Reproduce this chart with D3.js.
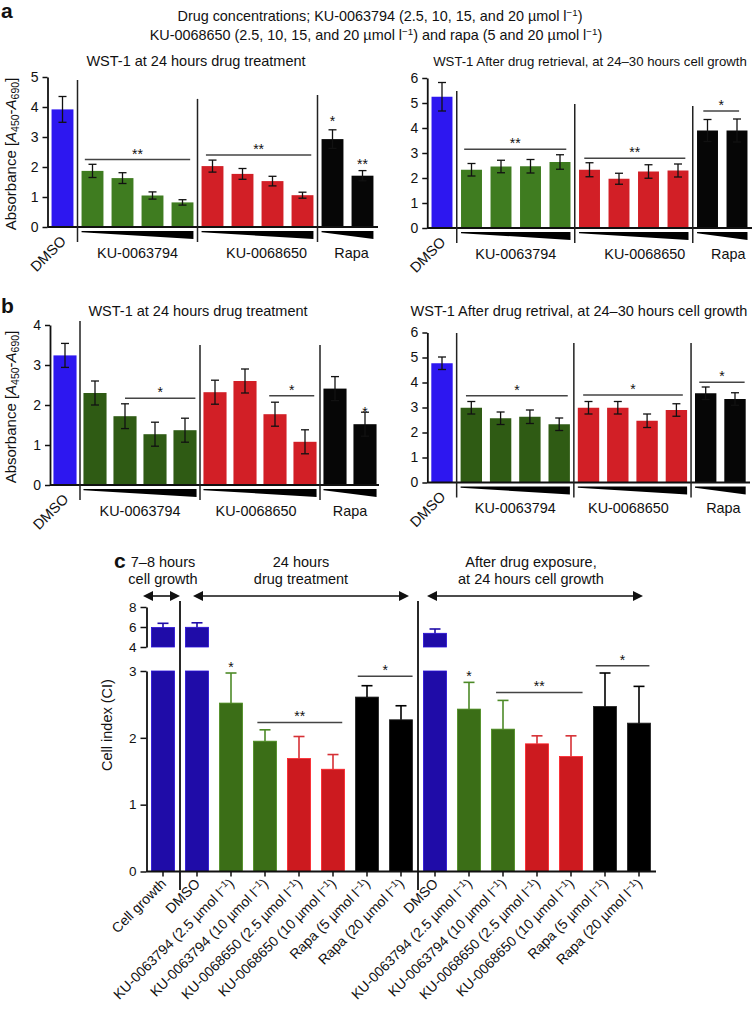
<!DOCTYPE html>
<html><head><meta charset="utf-8">
<script src="https://cdn.jsdelivr.net/npm/d3@7"></script>
<style>
body{margin:0;background:#fff}
svg{display:block}
text{font-family:"Liberation Sans",Arial,Helvetica,sans-serif;fill:#111}
</style>
</head><body>
<svg id="chart" width="753" height="1012"></svg>
<script>
// ---------------- DATA ----------------
const barGroup = ["dmso","ku63","ku63","ku63","ku63","ku68","ku68","ku68","ku68","rapa","rapa"];
const groupNames = {ku63:"KU-0063794", ku68:"KU-0068650", rapa:"Rapa"};

const aLeftMean  = [3.92,1.87,1.63,1.05,0.82,2.03,1.77,1.53,1.06,2.93,1.71];
const aLeftErr   = [0.43,0.22,0.18,0.12,0.09,0.20,0.18,0.16,0.10,0.31,0.17];
const aRightMean = [5.25,2.33,2.46,2.47,2.64,2.33,1.97,2.26,2.30,3.90,3.90];
const aRightErr  = [0.57,0.25,0.25,0.27,0.29,0.28,0.22,0.27,0.26,0.44,0.46];
const bLeftMean  = [3.24,2.30,1.72,1.27,1.37,2.32,2.60,1.77,1.08,2.41,1.52];
const bLeftErr   = [0.30,0.30,0.31,0.30,0.30,0.30,0.30,0.30,0.30,0.30,0.30];
const bRightMean = [4.77,2.99,2.57,2.63,2.33,2.99,2.99,2.47,2.90,3.57,3.34];
const bRightErr  = [0.25,0.25,0.25,0.27,0.25,0.25,0.25,0.27,0.25,0.25,0.25];

const aLeftTicks  = [0,1,2,3,4,5];
const aRightTicks = [0,1,2,3,4,5,6];
const bLeftTicks  = [0,1,2,3,4];
const bRightTicks = [0,1,2,3,4,5,6];

// significance brackets: [firstBar, lastBar, value, label]
const aLeftSig  = [[1,4,2.25,"**"],[5,8,2.40,"**"]];
const aRightSig = [[1,4,3.15,"**"],[5,8,2.79,"**"],[9,10,4.68,"*"]];
const bLeftSig  = [[2,4,2.17,"*"],[7,8,2.23,"*"]];
const bRightSig = [[1,4,3.47,"*"],[5,8,3.50,"*"],[9,10,4.01,"*"]];
// stars on single bars: [bar, label]
const aLeftStars  = [[9,"*"],[10,"**"]];
const aRightStars = [];
const bLeftStars  = [[10,"*"]];
const bRightStars = [];

const headerLines = ["Drug concentrations; KU-0063794 (2.5, 10, 15, and 20 µmol l⁻¹)",
                     "KU-0068650 (2.5, 10, 15, and 20 µmol l⁻¹) and rapa (5 and 20 µmol l⁻¹)"];

// Panel c
const cLabels = ["Cell growth","DMSO",
  "KU-0063794 (2.5 µmol l⁻¹)","KU-0063794 (10 µmol l⁻¹)","KU-0068650 (2.5 µmol l⁻¹)","KU-0068650 (10 µmol l⁻¹)","Rapa (5 µmol l⁻¹)","Rapa (20 µmol l⁻¹)",
  "DMSO",
  "KU-0063794 (2.5 µmol l⁻¹)","KU-0063794 (10 µmol l⁻¹)","KU-0068650 (2.5 µmol l⁻¹)","KU-0068650 (10 µmol l⁻¹)","Rapa (5 µmol l⁻¹)","Rapa (20 µmol l⁻¹)"];
const cGroup = ["dmso","dmso","ku63","ku63","ku68","ku68","rapa","rapa","dmso","ku63","ku63","ku68","ku68","rapa","rapa"];
const cMean = [5.95,5.97,2.52,1.95,1.69,1.53,2.61,2.27,5.37,2.43,2.13,1.91,1.72,2.47,2.22];
const cErr  = [0.42,0.45,0.45,0.17,0.33,0.22,0.17,0.21,0.43,0.40,0.43,0.12,0.31,0.50,0.55];
const cLowTicks  = [0,1,2,3];
const cHighTicks = [4,6,8];
const cSig   = [[3,5,2.23,"**"],[6,7,2.92,"*"],[10,12,2.68,"**"],[13,14,3.08,"*"]];
const cStars = [[2,"*"],[9,"*"]];
const cPhaseText = [["7–8 hours","cell growth"],["24 hours","drug treatment"],["After drug exposure,","at 24 hours cell growth"]];

// ---------------- DRAWING ----------------
const svg = d3.select("#chart");
const FONT = '"Liberation Sans", Arial, Helvetica, sans-serif';

function supText(sel, str, supSize) {
  const parts = str.split("⁻¹");
  parts.forEach((p, i) => {
    if (i > 0) sel.append("tspan").attr("dy", -5).attr("font-size", supSize || "0.68em").text("−1");
    if (p.length) sel.append("tspan").attr("dy", i > 0 ? 5 : 0).text(p);
  });
}

// header
svg.append("text").attr("x", 1).attr("y", 18).attr("font-size", 21).attr("font-weight", "bold").text("a");
svg.append("text").attr("x", 1).attr("y", 313).attr("font-size", 21).attr("font-weight", "bold").text("b");
headerLines.forEach((t, i) => {
  const tx = svg.append("text").attr("x", i === 0 ? 380 : 376).attr("y", i === 0 ? 20.5 : 40)
    .attr("text-anchor", "middle").attr("font-size", 14.4);
  supText(tx, t);
});

function yLabel(g, x, y) {
  const t = g.append("text").attr("transform", `translate(${x},${y}) rotate(-90)`)
    .attr("text-anchor", "middle").attr("font-size", 15);
  t.append("tspan").text("Absorbance [");
  t.append("tspan").attr("font-style", "italic").text("A");
  t.append("tspan").attr("dy", 3).attr("font-size", 10.5).text("450");
  t.append("tspan").attr("dy", -3).text("-");
  t.append("tspan").attr("font-style", "italic").text("A");
  t.append("tspan").attr("dy", 3).attr("font-size", 10.5).text("690");
  t.append("tspan").attr("dy", -3).text("]");
}

function drawWST(c) {
  const g = svg.append("g");
  const n = c.mean.length;
  const x = d3.scaleBand().domain(d3.range(n)).range(c.xRange).paddingInner(c.pad).paddingOuter(c.pad / 2);
  const y = d3.scaleLinear().domain([0, d3.max(c.ticks)]).range(c.yRange);
  const bw = x.bandwidth();
  const y0 = y(0);

  // bars
  g.selectAll("rect.bar").data(c.mean).join("rect").attr("class", "bar")
    .attr("x", (d, i) => x(i)).attr("y", d => y(d))
    .attr("width", bw).attr("height", d => y0 - y(d))
    .attr("fill", (d, i) => c.colors[barGroup[i]]);

  // error bars
  const eg = g.append("g").attr("stroke", "#111").attr("stroke-width", 1.3);
  c.mean.forEach((m, i) => {
    const cx = x(i) + bw / 2, e = c.err[i];
    eg.append("line").attr("x1", cx).attr("x2", cx).attr("y1", y(m - e)).attr("y2", y(m + e));
    [m - e, m + e].forEach(v => eg.append("line").attr("x1", cx - 4).attr("x2", cx + 4).attr("y1", y(v)).attr("y2", y(v)));
  });

  // y axis
  const ax = g.append("g").attr("transform", `translate(${c.xRange[0]},0)`)
    .call(d3.axisLeft(y).tickValues(c.ticks).tickSize(5).tickSizeOuter(0).tickPadding(4).tickFormat(d3.format("d")));
  ax.attr("font-family", FONT).attr("font-size", 14);
  ax.select(".domain").attr("stroke", "#111").attr("stroke-width", 1.8);
  ax.selectAll(".tick line").attr("stroke", "#111").attr("stroke-width", 1.5);
  ax.selectAll(".tick text").attr("fill", "#111");

  // baseline
  g.append("line").attr("x1", c.xRange[0]).attr("x2", c.baseEnd).attr("y1", y0).attr("y2", y0)
    .attr("stroke", "#111").attr("stroke-width", 2);

  // dividers
  [0, 4, 8].forEach((b, k) => {
    const xm = (x(b) + bw + x(b + 1)) / 2;
    g.append("line").attr("x1", xm).attr("x2", xm).attr("y1", y(c.divTop[k])).attr("y2", y0 + 15)
      .attr("stroke", "#222").attr("stroke-width", 1.5);
  });

  // wedges & group labels
  [["ku63", 1, 4], ["ku68", 5, 8], ["rapa", 9, 10]].forEach(([key, a, b], k) => {
    const xa = x(a), xb = x(b) + bw;
    g.append("polygon").attr("points", [[xa, y0 + 4], [xb, y0 + 4], [xb, y0 + 12], [xa, y0 + 5.2]].map(p => p.join(",")).join(" "))
      .attr("fill", "#000");
    g.append("text").attr("x", (xa + xb) / 2 + c.labelShift[k]).attr("y", y0 + 30.5)
      .attr("text-anchor", "middle").attr("font-size", 14.4).text(groupNames[key]);
  });

  // DMSO label
  const dx = x(0) + bw / 2 + 4.5;
  g.append("text").attr("transform", `translate(${dx},${y0 + 15}) rotate(-45)`)
    .attr("text-anchor", "end").attr("font-size", 14.4).text("DMSO");

  // significance brackets
  c.sig.forEach(([a, b, v, lab], k) => {
    const [fa, fb] = c.sigInset[k];
    const xa = x(a) + fa * bw, xb = x(b) + fb * bw, yy = y(v);
    g.append("line").attr("x1", xa).attr("x2", xb).attr("y1", yy).attr("y2", yy)
      .attr("stroke", "#444").attr("stroke-width", 1.5);
    g.append("text").attr("x", (xa + xb) / 2).attr("y", yy - 1).attr("text-anchor", "middle")
      .attr("font-size", 14).text(lab);
  });
  c.stars.forEach(([b, lab], k) => {
    const yy = y(c.mean[b] + c.err[b]) - c.starGap[k];
    g.append("text").attr("x", x(b) + bw / 2).attr("y", yy).attr("text-anchor", "middle")
      .attr("font-size", 14).text(lab);
  });

  // title
  g.append("text").attr("x", c.titlePos[0]).attr("y", c.titlePos[1]).attr("text-anchor", "middle")
    .attr("font-size", c.titleSize).text(c.title);
  if (c.yLab) yLabel(g, 16, (c.yRange[0] + c.yRange[1]) / 2 + 2);
}

const colA = {dmso: "#2d17f0", ku63: "#3f7c20", ku68: "#d21f26", rapa: "#060606"};
const colB = {dmso: "#2d17f0", ku63: "#2f5b14", ku68: "#d21f26", rapa: "#060606"};

drawWST({mean: aLeftMean, err: aLeftErr, ticks: aLeftTicks, xRange: [47.5, 377.5], pad: 0.27, yRange: [227, 77],
  baseEnd: 378, colors: colA, divTop: [4.9, 4.27, 4.4], labelShift: [0, 9, 4],
  sig: aLeftSig, sigInset: [[0.15, 0.85], [0.2, 0.9]], stars: aLeftStars, starGap: [4, 2],
  title: "WST-1 at 24 hours drug treatment", titlePos: [196, 66], titleSize: 14.5, yLab: true});
drawWST({mean: aRightMean, err: aRightErr, ticks: aRightTicks, xRange: [427.25, 751.75], pad: 0.29, yRange: [228, 78],
  baseEnd: 752, colors: colA, divTop: [5.48, 4.96, 4.88], labelShift: [0, 11, 6],
  sig: aRightSig, sigInset: [[0.15, 0.8], [0.25, 0.85], [0.3, 0.6]], stars: aRightStars, starGap: [],
  title: "WST-1 After drug retrieval, at 24–30 hours cell growth", titlePos: [590, 66], titleSize: 13.2, yLab: false});
drawWST({mean: bLeftMean, err: bLeftErr, ticks: bLeftTicks, xRange: [50, 380], pad: 0.23, yRange: [485, 325],
  baseEnd: 379, colors: colB, divTop: [4.1, 3.5, 3.5], labelShift: [0, -4, 0],
  sig: bLeftSig, sigInset: [[0.5, 0.95], [0.25, 0.9]], stars: bLeftStars, starGap: [-5],
  title: "WST-1 at 24 hours drug treatment", titlePos: [198, 315.5], titleSize: 14.5, yLab: true});
drawWST({mean: bRightMean, err: bRightErr, ticks: bRightTicks, xRange: [427.35, 749.65], pad: 0.27, yRange: [482.5, 332.5],
  baseEnd: 750, colors: colB, divTop: [5.98, 5.58, 5.58], labelShift: [0, -4, 3],
  sig: bRightSig, sigInset: [[0.25, 0.9], [0.25, 0.8], [0.2, 0.95]], stars: bRightStars, starGap: [],
  title: "WST-1 After drug retrival, at 24–30 hours cell growth", titlePos: [579, 315.5], titleSize: 14.5, yLab: false});

// ---------------- PANEL C ----------------
(function () {
  const g = svg.append("g");
  const colC = {dmso: "#1f0ca8", ku63: "#3b6e17", ku68: "#cc1a1f", rapa: "#000000"};
  const x = d3.scaleBand().domain(d3.range(cMean.length)).range([146, 656]).paddingInner(0.32).paddingOuter(0.16);
  const bw = x.bandwidth();
  const yLow = d3.scaleLinear().domain([0, 3]).range([871.5, 671]);
  const yHigh = d3.scaleLinear().domain([4, 8]).range([647, 607]);
  const y0 = yLow(0);
  const axisX = 146.5;

  svg.append("text").attr("x", 114).attr("y", 568).attr("font-size", 21).attr("font-weight", "bold").text("c");

  cMean.forEach((m, i) => {
    const col = colC[cGroup[i]];
    const edge = cGroup[i] === "rapa" ? "#222" : d3.color(col).brighter(0.7).formatHex();
    const e = cErr[i];
    const cx = x(i) + bw / 2;
    let topY, errY;
    if (m > 3) {
      g.append("rect").attr("x", x(i)).attr("y", yLow(3)).attr("width", bw).attr("height", y0 - yLow(3))
        .attr("fill", col).attr("stroke", edge).attr("stroke-width", 0.8);
      g.append("rect").attr("x", x(i)).attr("y", yHigh(m)).attr("width", bw).attr("height", yHigh(4) - yHigh(m))
        .attr("fill", col).attr("stroke", edge).attr("stroke-width", 0.8);
      topY = yHigh(m); errY = yHigh(m + e);
    } else {
      g.append("rect").attr("x", x(i)).attr("y", yLow(m)).attr("width", bw).attr("height", y0 - yLow(m))
        .attr("fill", col).attr("stroke", edge).attr("stroke-width", 0.8);
      topY = yLow(m); errY = yLow(m + e);
    }
    const ecol = cGroup[i] === "ku63" ? "#4d8a27" : (cGroup[i] === "ku68" ? "#d63035" : col);
    g.append("line").attr("x1", cx).attr("x2", cx).attr("y1", topY).attr("y2", errY).attr("stroke", ecol).attr("stroke-width", 1.6);
    g.append("line").attr("x1", cx - 5.5).attr("x2", cx + 5.5).attr("y1", errY).attr("y2", errY).attr("stroke", ecol).attr("stroke-width", 1.6);
  });

  // axes
  [[yLow, cLowTicks], [yHigh, cHighTicks]].forEach(([sc, tv]) => {
    const ax = g.append("g").attr("transform", `translate(${axisX},0)`)
      .call(d3.axisLeft(sc).tickValues(tv).tickSize(6).tickSizeOuter(0).tickPadding(4).tickFormat(d3.format("d")));
    ax.attr("font-family", FONT).attr("font-size", 13.5);
    ax.select(".domain").attr("stroke", "#111").attr("stroke-width", 1.8);
    ax.selectAll(".tick line").attr("stroke", "#111").attr("stroke-width", 1.5);
    ax.selectAll(".tick text").attr("fill", "#111");
  });
  g.append("line").attr("x1", axisX).attr("x2", 656).attr("y1", y0).attr("y2", y0).attr("stroke", "#111").attr("stroke-width", 2);
  cMean.forEach((m, i) => {
    const cx = x(i) + bw / 2;
    g.append("line").attr("x1", cx).attr("x2", cx).attr("y1", y0).attr("y2", y0 + 5).attr("stroke", "#111").attr("stroke-width", 1.5);
    const t = g.append("text").attr("transform", `translate(${cx + 4},${y0 + 13}) rotate(-45)`)
      .attr("text-anchor", "end").attr("font-size", 14);
    supText(t, cLabels[i], 9.5);
  });

  g.append("text").attr("transform", `translate(112,725) rotate(-90)`).attr("text-anchor", "middle")
    .attr("font-size", 14.5).text("Cell index (CI)");

  // dividers
  const div1 = (x(0) + bw + x(1)) / 2, div2 = (x(7) + bw + x(8)) / 2;
  [div1, div2].forEach(xm => g.append("line").attr("x1", xm).attr("x2", xm).attr("y1", 601).attr("y2", 890)
    .attr("stroke", "#111").attr("stroke-width", 1.8));

  // arrows
  const ay = 596;
  const arrows = [[x(0) + bw / 2 - 20, div1], [x(1) + bw / 2 - 4, div2 - 9], [div2 + 9, x(14) + bw / 2 + 4]];
  arrows.forEach(([a, b]) => {
    g.append("line").attr("x1", a + 6).attr("x2", b - 6).attr("y1", ay).attr("y2", ay).attr("stroke", "#111").attr("stroke-width", 1.6);
    g.append("polygon").attr("points", `${a},${ay} ${a + 10},${ay - 5} ${a + 10},${ay + 5}`).attr("fill", "#111");
    g.append("polygon").attr("points", `${b},${ay} ${b - 10},${ay - 5} ${b - 10},${ay + 5}`).attr("fill", "#111");
  });
  const phaseX = [x(0) + bw / 2, (arrows[1][0] + arrows[1][1]) / 2, (arrows[2][0] + arrows[2][1]) / 2 - 4];
  cPhaseText.forEach((lines, k) => {
    lines.forEach((ln, j) => g.append("text").attr("x", phaseX[k]).attr("y", 567 + j * 17)
      .attr("text-anchor", "middle").attr("font-size", 14.5).text(ln));
  });

  // significance
  const insets = [[0.17, 0.9], [0.1, 1.0], [0.2, 1.0], [0.1, 0.95]];
  cSig.forEach(([a, b, v, lab], k) => {
    const xa = x(a) + insets[k][0] * bw, xb = x(b) + insets[k][1] * bw, yy = yLow(v);
    g.append("line").attr("x1", xa).attr("x2", xb).attr("y1", yy).attr("y2", yy).attr("stroke", "#444").attr("stroke-width", 1.5);
    g.append("text").attr("x", (xa + xb) / 2).attr("y", yy - 1).attr("text-anchor", "middle").attr("font-size", 14).text(lab);
  });
  cStars.forEach(([b, lab]) => {
    g.append("text").attr("x", x(b) + bw / 2).attr("y", yLow(cMean[b] + cErr[b]) - 1).attr("text-anchor", "middle")
      .attr("font-size", 14).text(lab);
  });
})();
</script>
</body></html>
